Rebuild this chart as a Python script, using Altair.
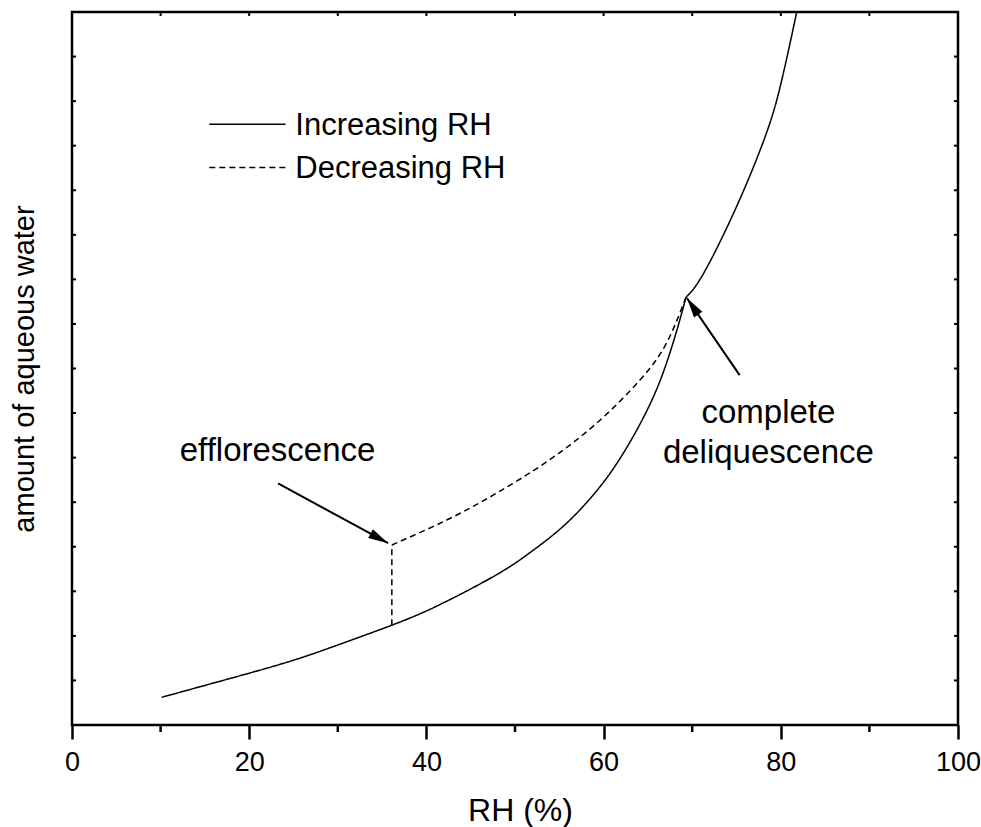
import altair as alt
import pandas as pd

# ---- data ----
series_names = ["Increasing RH", "Decreasing RH"]

# increasing RH: below and above the deliquescence point (kink at ~69.3 %)
inc_low_rh = [10.1, 16.3, 23.8, 29.5, 36.1, 41.5, 47.9, 51.7, 55.5, 59.2,
              62.2, 64.9, 66.8, 68.3, 69.3]
inc_low_water = [0.62, 0.96, 1.38, 1.76, 2.24, 2.70, 3.37, 3.87, 4.47, 5.25,
                 6.09, 7.06, 7.95, 8.88, 9.60]
inc_high_rh = [69.3, 71.3, 75.0, 78.1, 79.9, 81.8]
inc_high_water = [9.60, 10.14, 11.63, 13.13, 14.30, 16.0]

dec_rh = [69.3, 67.1, 64.1, 59.2, 53.6, 47.9, 42.3, 36.1]
dec_water = [9.60, 8.57, 7.74, 6.77, 5.91, 5.20, 4.60, 4.04]
drop_rh = [36.1]
drop_top = [4.04]
drop_bottom = [2.24]

x_major = [0, 20, 40, 60, 80, 100]
x_minor = [10, 30, 50, 70, 90]
x_top_ticks = [10, 20, 30, 40, 50, 60, 70, 80, 90]
y_ticks = list(range(1, 16))

annot_texts = ["efflorescence", "complete", "deliquescence"]

# ---- tables ----
rows = []
for seg, (xx, yy, name) in enumerate([
        (inc_low_rh, inc_low_water, series_names[0]),
        (inc_high_rh, inc_high_water, series_names[0]),
        (dec_rh, dec_water, series_names[1])]):
    for i, (x, y) in enumerate(zip(xx, yy)):
        rows.append({"series": name, "segment": seg, "rh": x, "water": y, "idx": i})
curves = pd.DataFrame(rows)

drop_df = pd.DataFrame({"series": [series_names[1]], "rh": drop_rh,
                        "water": drop_bottom, "water2": drop_top})

legend_df = pd.DataFrame({
    "series": series_names,
    "rh": [15.5, 15.5], "rh2": [24.1, 24.1],
    "water": [13.48, 12.51],
    "tx": [25.2, 25.2], "ty": [13.24, 12.27],
})

annot_df = pd.DataFrame({
    "text": annot_texts,
    "rh": [23.2, 78.6, 78.6],
    "water": [5.93, 6.78, 5.87],
})

arrows_df = pd.DataFrame({
    "rh": [23.26, 75.35], "water": [5.42, 7.85],
    "rh2": [35.68, 69.4], "water2": [4.08, 9.58],
    "angle": [118.6, 325.6],
})

W, H = 886, 713
FONT = "Liberation Sans"
xs = alt.Scale(domain=[0, 100], nice=False, zero=False)
ys = alt.Scale(domain=[0, 16], nice=False, zero=False)
dash_scale = alt.Scale(domain=series_names, range=[[1, 0], [6, 4]])

x_axis = alt.Axis(
    values=x_major, tickSize=14, tickWidth=2.5, tickColor="black",
    domain=False, grid=False, labelFontSize=27, labelFont=FONT,
    labelColor="black", labelPadding=10, labelFlush=False,
    labelOverlap=False, format="d",
    title="RH (%)", titleFontSize=32, titleFont=FONT,
    titleFontWeight="normal", titleColor="black",
    titleX=448, titleY=95, titleBaseline="alphabetic")
y_axis = alt.Axis(
    labels=False, ticks=False, domain=False, grid=False,
    title="amount of aqueous water", titleFontSize=29, titleFont=FONT,
    titleFontWeight="normal", titleColor="black",
    titleX=-39, titleY=356.5, titleAngle=270,
    titleBaseline="alphabetic", titleAlign="center")


def X(field):
    return alt.X(field, type="quantitative", scale=xs, axis=x_axis, title="RH (%)")


def Y(field):
    return alt.Y(field, type="quantitative", scale=ys, axis=y_axis,
                 title="amount of aqueous water")


dash = alt.StrokeDash("series:N", scale=dash_scale, legend=None)

lines = alt.Chart(curves).mark_line(
    color="black", strokeWidth=1.5, interpolate="natural").encode(
    x=X("rh"), y=Y("water"), strokeDash=dash, detail="segment:N",
    order=alt.Order("idx:Q"))

drop = alt.Chart(drop_df).mark_rule(color="black", strokeWidth=1.5).encode(
    x=X("rh"), y=Y("water"), y2="water2", strokeDash=dash)

minor_ticks = alt.Chart(pd.DataFrame({"rh": x_minor})).mark_rule(
    color="black", strokeWidth=2.5).encode(
    x=X("rh"), y=alt.value(H), y2=alt.value(H + 7))

top_ticks = alt.Chart(pd.DataFrame({"rh": x_top_ticks})).mark_rule(
    color="black", strokeWidth=2).encode(
    x=X("rh"), y=alt.value(0), y2=alt.value(4))

left_ticks = alt.Chart(pd.DataFrame({"water": y_ticks})).mark_rule(
    color="black", strokeWidth=2).encode(
    y=Y("water"), x=alt.value(0), x2=alt.value(4))

right_ticks = alt.Chart(pd.DataFrame({"water": y_ticks})).mark_rule(
    color="black", strokeWidth=2).encode(
    y=Y("water"), x=alt.value(W), x2=alt.value(W - 4))

legend_lines = alt.Chart(legend_df).mark_rule(color="black", strokeWidth=1.5).encode(
    x=X("rh"), x2="rh2", y=Y("water"), strokeDash=dash)

legend_text = alt.Chart(legend_df).mark_text(
    align="left", baseline="alphabetic", fontSize=31, font=FONT, color="black"
).encode(x=X("tx"), y=Y("ty"), text="series:N")

annot_text = alt.Chart(annot_df).mark_text(
    align="center", baseline="alphabetic", fontSize=33, font=FONT, color="black"
).encode(x=X("rh"), y=Y("water"), text="text:N")

arrow_lines = alt.Chart(arrows_df).mark_rule(color="black", strokeWidth=2).encode(
    x=X("rh"), x2="rh2", y=Y("water"), y2="water2")

arrow_heads = alt.Chart(arrows_df).mark_point(
    shape="M0,0L0.5,2L-0.5,2Z", filled=True, size=400, color="black", opacity=1
).encode(x=X("rh2"), y=Y("water2"), angle=alt.Angle("angle:Q", scale=None))

chart = alt.layer(
    lines, drop, minor_ticks, top_ticks, left_ticks, right_ticks,
    legend_lines, legend_text, annot_text, arrow_lines, arrow_heads,
).properties(
    width=W, height=H,
    autosize=alt.AutoSizeParams(type="none"),
    padding={"left": 72, "top": 12, "right": 23, "bottom": 102},
    background="white",
).configure_view(stroke="black", strokeWidth=2.5)

chart.save("out.html", embed_options={"renderer": "svg", "actions": False})
